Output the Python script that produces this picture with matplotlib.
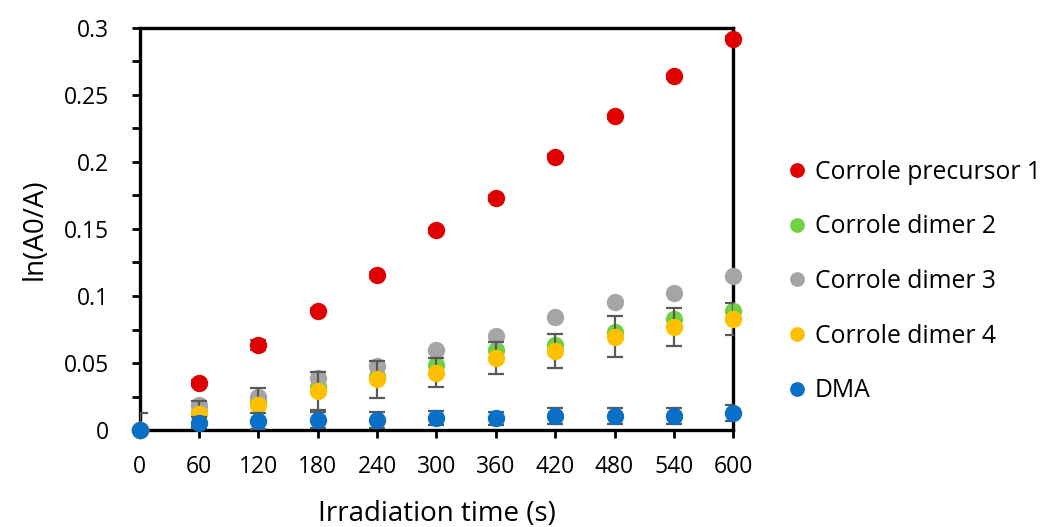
import matplotlib
matplotlib.use("Agg")
import matplotlib.pyplot as plt
from matplotlib.ticker import MultipleLocator, FuncFormatter

plt.rcParams["font.family"] = ["Open Sans", "DejaVu Sans"]

time_s = [0, 60, 120, 180, 240, 300, 360, 420, 480, 540, 600]

precursor_1 = [0, 0.035, 0.0634, 0.089, 0.1157, 0.149, 0.173, 0.204, 0.234, 0.264, 0.292]
precursor_1_err = [0, 0.002, 0.004, 0.002, 0.002, 0.002, 0.002, 0.002, 0.002, 0.002, 0.002]
dimer_2 = [0, 0.0137, 0.021, 0.0323, 0.040, 0.0485, 0.060, 0.0637, 0.0734, 0.0828, 0.0888]
dimer_3 = [0, 0.0187, 0.0249, 0.0386, 0.048, 0.060, 0.070, 0.0846, 0.0955, 0.1025, 0.115]
dimer_4 = [0, 0.012, 0.019, 0.029, 0.0378, 0.0428, 0.054, 0.059, 0.0697, 0.077, 0.0828]
dimer_4_err = [0.013, 0.010, 0.012, 0.014, 0.014, 0.011, 0.012, 0.013, 0.0155, 0.014, 0.012]
dma = [0, 0.0055, 0.007, 0.0072, 0.0072, 0.009, 0.0087, 0.0107, 0.0107, 0.0107, 0.0124]
dma_err = [0, 0.004, 0.006, 0.006, 0.006, 0.005, 0.005, 0.006, 0.006, 0.006, 0.006]

series = [
    ("Corrole precursor 1", precursor_1, precursor_1_err, "#E00000"),
    ("Corrole dimer 2", dimer_2, None, "#6FD143"),
    ("Corrole dimer 3", dimer_3, None, "#A5A5A5"),
    ("Corrole dimer 4", dimer_4, dimer_4_err, "#FFC000"),
    ("DMA", dma, dma_err, "#0A6FC6"),
]

fig = plt.figure(figsize=(10.43, 5.27), dpi=100)
ax = fig.add_axes([0.134, 0.184, 0.569, 0.763])

for i, (name, vals, err, color) in enumerate(series):
    if err is not None:
        ax.errorbar(time_s, vals, yerr=err, fmt="none", ecolor="#595959",
                    elinewidth=1.6, capsize=6, capthick=1.6, zorder=2 + 2 * i)
    ax.plot(time_s, vals, "o", color=color, markersize=12.5, label=name,
            zorder=3 + 2 * i, clip_on=False, markeredgewidth=0)

ax.set_xlim(0, 600)
ax.set_ylim(0, 0.3)
ax.set_xticks(time_s)
ax.yaxis.set_major_locator(MultipleLocator(0.05))
ax.yaxis.set_minor_locator(MultipleLocator(0.025))
ax.yaxis.set_major_formatter(FuncFormatter(lambda v, p: "0" if v == 0 else f"{v:g}"))

for s in ax.spines.values():
    s.set_linewidth(2.4)
    s.set_color("black")
ax.tick_params(axis="both", which="both", direction="out", length=6, width=2,
               labelsize=16.5, colors="black")
ax.tick_params(axis="x", pad=12)
ax.tick_params(axis="y", pad=16)

ax.set_xlabel("Irradiation time (s)", fontsize=20, labelpad=15)
ax.set_ylabel("ln(A0/A)", fontsize=20, labelpad=11)

fig.legend(loc="upper left", bbox_to_anchor=(0.748, 0.716), frameon=False,
           fontsize=17.8, markerscale=0.85, handlelength=0.6, handletextpad=0.4,
           labelspacing=1.2, borderaxespad=0)

fig.savefig("out.png", dpi=100)
